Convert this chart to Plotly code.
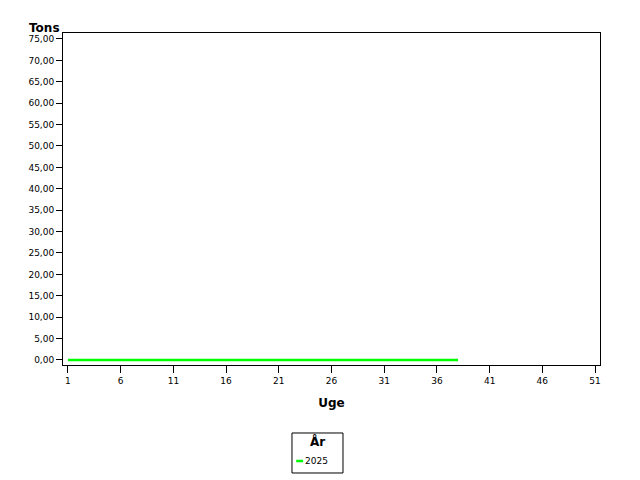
import plotly.graph_objects as go

weeks = list(range(1, 39))
tons_2025 = [0.0] * 38
series_name = "2025"
legend_title = "År"
x_ticks = [1, 6, 11, 16, 21, 26, 31, 36, 41, 46, 51]
y_ticks = [0, 5, 10, 15, 20, 25, 30, 35, 40, 45, 50, 55, 60, 65, 70, 75]
line_color = "#00ff00"

fig = go.Figure()
fig.add_trace(go.Scatter(x=weeks, y=tons_2025, mode="lines", name=series_name,
                         line=dict(color=line_color, width=2.5), showlegend=False))

font = "DejaVu Sans"
fig.update_layout(
    width=640, height=480,
    paper_bgcolor="white", plot_bgcolor="white",
    margin=dict(l=55, r=48, t=25, b=123, autoexpand=False),
    separators=",.",
    font=dict(family=font, size=9, color="black"),
    xaxis=dict(range=[0.53, 51.47], tickvals=x_ticks, ticks="outside", ticklen=7,
               tickwidth=1, tickcolor="black", showgrid=False, zeroline=False,
               showline=True, linecolor="black", linewidth=1, mirror=True,
               title=dict(text="<b>Uge</b>", font=dict(size=12), standoff=13)),
    yaxis=dict(range=[-1.17, 76.4], tickvals=y_ticks, tickformat=".2f", ticks="outside",
               ticklen=6, tickwidth=1, tickcolor="black", showgrid=False, zeroline=False,
               showline=True, linecolor="black", linewidth=1, mirror=True),
)
fig.add_annotation(text="<b>Tons</b>", xref="paper", yref="paper", x=-0.002, y=1.0,
                   xanchor="right", yanchor="bottom", showarrow=False, font=dict(size=12),
                   yshift=-4)

# legend box (drawn manually to match the compact original)
fig.add_shape(type="rect", xref="paper", yref="paper", x0=0.4264, x1=0.5214,
              y0=-0.3253, y1=-0.2048, line=dict(color="black", width=1),
              fillcolor="white")
fig.add_annotation(text="<b>" + legend_title + "</b>", xref="paper", yref="paper",
                   x=0.4739, y=-0.229, yanchor="middle", showarrow=False,
                   font=dict(size=12))
fig.add_shape(type="line", xref="paper", yref="paper", x0=0.4342, x1=0.4472,
              y0=-0.2892, y1=-0.2892, line=dict(color=line_color, width=2.5))
fig.add_annotation(text=series_name, xref="paper", yref="paper", x=0.4472, y=-0.2892,
                   xanchor="left", yanchor="middle", showarrow=False, font=dict(size=9))
fig.write_html("out.html")
